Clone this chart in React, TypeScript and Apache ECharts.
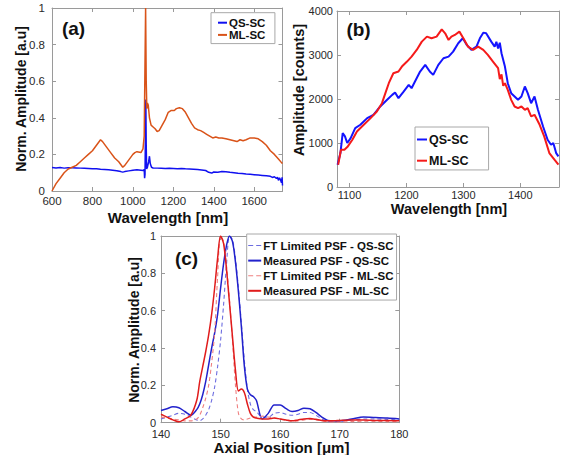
import React, { useEffect, useRef } from "react";
import * as echarts from "echarts";

// ---------- Panel (a) ----------
const aQsX = [600,620,640,660,680,700,720,740,760,780,800,820,840,860,880,900,920,940,950,960,980,1000,1020,1040,1052,1056,1058,1060,1062,1064,1066,1068,1072,1078,1082,1086,1092,1100,1120,1140,1160,1180,1200,1220,1240,1260,1280,1300,1320,1340,1360,1375,1390,1400,1420,1440,1460,1480,1500,1520,1540,1560,1580,1600,1620,1640,1660,1680,1690,1700,1710,1715,1720,1725,1730,1735,1738,1740];
const aQsY = [0.128,0.126,0.128,0.125,0.127,0.127,0.126,0.125,0.124,0.123,0.122,0.121,0.119,0.118,0.116,0.114,0.111,0.106,0.103,0.106,0.110,0.114,0.116,0.114,0.112,0.118,0.07,0.09,0.30,0.50,0.25,0.12,0.13,0.16,0.19,0.15,0.13,0.126,0.125,0.124,0.123,0.124,0.123,0.122,0.123,0.121,0.12,0.119,0.117,0.115,0.112,0.102,0.098,0.104,0.103,0.107,0.105,0.102,0.100,0.097,0.096,0.093,0.091,0.089,0.087,0.085,0.083,0.080,0.074,0.078,0.068,0.075,0.058,0.072,0.062,0.045,0.075,0.03];
const aMlX = [600,620,640,660,680,700,720,740,760,780,800,820,840,850,870,890,910,930,950,960,980,1000,1010,1020,1040,1050,1056,1060,1063,1066,1069,1072,1076,1082,1090,1100,1110,1120,1130,1145,1160,1175,1190,1205,1215,1230,1245,1260,1275,1290,1305,1320,1335,1350,1365,1380,1395,1410,1425,1440,1460,1480,1500,1515,1530,1545,1560,1580,1600,1620,1640,1660,1680,1700,1720,1735,1740];
const aMlY = [0.0,0.04,0.07,0.10,0.12,0.13,0.14,0.16,0.18,0.20,0.22,0.25,0.28,0.27,0.24,0.21,0.18,0.16,0.13,0.14,0.17,0.20,0.21,0.215,0.21,0.23,0.30,0.70,1.0,0.60,0.45,0.48,0.47,0.40,0.36,0.35,0.34,0.325,0.33,0.36,0.39,0.43,0.44,0.44,0.45,0.455,0.45,0.43,0.40,0.37,0.345,0.335,0.33,0.32,0.31,0.30,0.29,0.295,0.29,0.29,0.285,0.28,0.275,0.27,0.28,0.275,0.28,0.29,0.29,0.285,0.27,0.25,0.22,0.20,0.175,0.155,0.15];
const aXTicks = [600, 800, 1000, 1200, 1400, 1600];

// ---------- Panel (b) ----------
const bQsX = [1079,1084,1088,1092,1096,1102,1110,1119,1131,1142,1154,1166,1175,1180,1186,1195,1204,1209,1215,1224,1233,1241,1247,1256,1265,1274,1282,1291,1299,1306,1314,1323,1329,1335,1340,1349,1355,1358,1361,1364,1367,1373,1378,1384,1390,1396,1402,1408,1413,1419,1425,1431,1440,1448,1454,1458,1463,1467];
const bQsY = [507,771,1225,1150,1000,1110,1338,1414,1565,1640,1830,1981,2094,2147,2020,2170,2321,2246,2397,2624,2775,2624,2548,2775,2926,2964,3077,3266,3380,3229,3115,3191,3380,3508,3493,3304,3191,3300,3150,3280,3040,2737,2359,2132,2057,1981,2057,2284,2132,1905,2057,1754,1376,1074,960,998,771,696];
const bMlX = [1080,1085,1091,1097,1105,1113,1125,1137,1148,1157,1163,1169,1177,1186,1192,1201,1209,1218,1227,1236,1244,1253,1262,1268,1274,1279,1285,1293,1300,1308,1317,1326,1335,1343,1352,1361,1364,1367,1370,1373,1378,1384,1390,1396,1402,1408,1413,1419,1425,1434,1442,1451,1460,1467];
const bMlY = [507,847,847,922,1074,1263,1414,1565,1716,1905,2132,2359,2586,2624,2737,2851,2964,3115,3304,3418,3380,3418,3584,3493,3342,3418,3456,3531,3380,3191,3115,3191,3115,3002,2851,2700,2450,2560,2300,2359,2208,1981,1830,1792,1830,1754,1792,1603,1641,1414,1150,771,620,507];
const bXTicks = [1100, 1200, 1300, 1400];

// ---------- Panel (c) ----------
const cX = [140,141,142,143,144,145,146,146.5,147,147.5,148,148.5,149,149.5,150,150.5,151,151.5,152,152.5,153,153.5,154,154.5,155,155.5,156,157,158,159,160,161,162,163,164,165,166,167,168,169,170,172,174,176,178,180];
const cFtQs = [0.02,0.03,0.04,0.05,0.045,0.03,0.015,0.01,0.02,0.04,0.07,0.12,0.19,0.30,0.44,0.63,0.85,1.0,0.98,0.88,0.72,0.53,0.33,0.18,0.10,0.07,0.06,0.03,0.03,0.05,0.055,0.045,0.04,0.045,0.055,0.055,0.04,0.02,0.005,0.005,0.008,0.015,0.02,0.02,0.018,0.015];
const cMeasQs = [0.065,0.075,0.085,0.08,0.06,0.04,0.07,0.1,0.15,0.22,0.31,0.40,0.48,0.58,0.72,0.85,0.95,1.0,0.97,0.86,0.70,0.51,0.30,0.18,0.15,0.14,0.12,0.02,0.05,0.095,0.095,0.075,0.06,0.065,0.078,0.075,0.055,0.03,0.012,0.01,0.01,0.02,0.03,0.028,0.025,0.02];
const cFtMl = [0.03,0.025,0.02,0.015,0.01,0.01,0.02,0.04,0.08,0.13,0.20,0.32,0.48,0.78,1.0,0.97,0.84,0.66,0.44,0.20,0.05,0.02,0.015,0.02,0.025,0.03,0.03,0.035,0.03,0.025,0.02,0.012,0.008,0.01,0.015,0.018,0.015,0.01,0.005,0.004,0.004,0.006,0.008,0.008,0.006,0.005];
const cMeasMl = [0.045,0.03,0.015,0.005,0.02,0.04,0.12,0.22,0.30,0.38,0.47,0.58,0.72,0.88,1.0,0.96,0.82,0.64,0.46,0.28,0.17,0.18,0.16,0.10,0.05,0.03,0.025,0.02,0.02,0.025,0.02,0.015,0.01,0.015,0.02,0.022,0.018,0.012,0.01,0.01,0.012,0.015,0.015,0.012,0.012,0.01];

const FONT = "'Liberation Sans', Arial, Helvetica, sans-serif";
const AXIS_COLOR = "#9a9a9a";
const LABEL_COLOR = "#2a2a2a";

const C_A_QS = "#1010f0";
const C_A_ML = "#d95319";
const C_B_QS = "#1414ff";
const C_B_ML = "#f51a1a";
const C_FT_QS = "#6d6de0";
const C_M_QS = "#2222cc";
const C_FT_ML = "#ef8080";
const C_M_ML = "#e01c1c";

const SOLID_ICON = "rect";
const DASH_ICON = "path://M0,0h5v1h-5zM8,0h5v1h-5z";

const zip = (xs: number[], ys: number[]) => xs.map((x, i) => [x, ys[i]]);

function valueAxis(opts: any, showLabel: boolean, position: string, labelMargin: number, fontSize: number) {
  const { customValues, ...rest } = opts;
  const tick: any = { show: true, inside: true, length: 4, lineStyle: { color: AXIS_COLOR } };
  const label: any = {
    show: showLabel,
    color: LABEL_COLOR,
    fontSize,
    fontFamily: FONT,
    margin: labelMargin,
    formatter: (v: number) => String(Math.round(v * 1000) / 1000),
  };
  if (customValues) {
    tick.customValues = customValues;
    label.customValues = customValues;
  }
  return {
    type: "value",
    position,
    splitLine: { show: false },
    axisLine: { show: true, onZero: false, lineStyle: { color: AXIS_COLOR, width: 1 } },
    axisTick: tick,
    axisLabel: label,
    ...rest,
  };
}

function legendBox(left: number, top: number, items: any[], padding: number[], itemWidth: number, itemGap: number, fontSize: number) {
  return {
    orient: "vertical",
    left,
    top,
    data: items,
    padding,
    itemWidth,
    itemHeight: 2,
    itemGap,
    selectedMode: false,
    backgroundColor: "#ffffff",
    borderColor: "#a8a8a8",
    borderWidth: 1,
    borderRadius: 0,
    formatter: (n: string) => n.split("#")[0],
    textStyle: { fontSize, fontWeight: "bold", fontFamily: FONT, color: "#111", padding: [0, 0, 0, -3] },
  };
}

function titleText(text: string, x: number, y: number, size: number, rotate = 0) {
  return {
    type: "text",
    x,
    y,
    rotation: rotate,
    style: {
      text,
      fontSize: size,
      fontWeight: "bold",
      fontFamily: FONT,
      fill: "#111",
      align: "center",
      verticalAlign: "middle",
    },
  };
}

export default function App() {
  const ref = useRef<HTMLDivElement>(null);
  useEffect(() => {
    document.body.style.margin = "0";
    if (!ref.current) return;
    const chart = echarts.init(ref.current, undefined, { renderer: "svg" });
    const option: any = {
      animation: false,
      backgroundColor: "#ffffff",
      grid: [
        { left: 52, top: 8, width: 230.5, height: 183 },
        { left: 337, top: 11, width: 222, height: 176 },
        { left: 161, top: 236, width: 238.3, height: 186.7 },
      ],
      xAxis: [
        valueAxis({ gridIndex: 0, min: 600, max: 1740, customValues: aXTicks }, true, "bottom", 4, 11.5),
        valueAxis({ gridIndex: 0, min: 600, max: 1740, customValues: aXTicks }, false, "top", 4, 11.5),
        valueAxis({ gridIndex: 1, min: 1078, max: 1468, customValues: bXTicks }, true, "bottom", 2, 11),
        valueAxis({ gridIndex: 1, min: 1078, max: 1468, customValues: bXTicks }, false, "top", 2, 11),
        valueAxis({ gridIndex: 2, min: 140, max: 180, interval: 10 }, true, "bottom", 5.5, 11),
        valueAxis({ gridIndex: 2, min: 140, max: 180, interval: 10 }, false, "top", 5.5, 11),
      ],
      yAxis: [
        valueAxis({ gridIndex: 0, min: 0, max: 1, interval: 0.2 }, true, "left", 7, 11.5),
        valueAxis({ gridIndex: 0, min: 0, max: 1, interval: 0.2 }, false, "right", 7, 11.5),
        valueAxis({ gridIndex: 1, min: 0, max: 4000, interval: 1000 }, true, "left", 4, 11),
        valueAxis({ gridIndex: 1, min: 0, max: 4000, interval: 1000 }, false, "right", 4, 11),
        valueAxis({ gridIndex: 2, min: 0, max: 1, interval: 0.2 }, true, "left", 5, 11),
        valueAxis({ gridIndex: 2, min: 0, max: 1, interval: 0.2 }, false, "right", 5, 11),
      ],
      legend: [
        legendBox(
          211,
          12.7,
          [
            { name: "QS-SC#a", icon: SOLID_ICON, itemStyle: { color: C_A_QS } },
            { name: "ML-SC#a", icon: SOLID_ICON, itemStyle: { color: C_A_ML } },
          ],
          [4, 9.5, 2.7, 7],
          9,
          0.2,
          11.5
        ),
        legendBox(
          415,
          127,
          [
            { name: "QS-SC#b", icon: SOLID_ICON, itemStyle: { color: C_B_QS } },
            { name: "ML-SC#b", icon: SOLID_ICON, itemStyle: { color: C_B_ML } },
          ],
          [6, 20, 2.75, 2],
          10,
          8.2,
          12.5
        ),
        legendBox(
          246.7,
          234,
          [
            { name: "FT Limited PSF - QS-SC#c", icon: DASH_ICON, itemStyle: { color: C_FT_QS } },
            { name: "Measured PSF - QS-SC#c", icon: SOLID_ICON, itemStyle: { color: C_M_QS } },
            { name: "FT Limited PSF - ML-SC#c", icon: DASH_ICON, itemStyle: { color: C_FT_ML } },
            { name: "Measured PSF - ML-SC#c", icon: SOLID_ICON, itemStyle: { color: C_M_ML } },
          ],
          [5.5, 3, 3.25, 1.5],
          13,
          3.1,
          11.5
        ),
      ],
      series: [
        { name: "QS-SC#a", type: "line", xAxisIndex: 0, yAxisIndex: 0, symbol: "none", data: zip(aQsX, aQsY), lineStyle: { color: C_A_QS, width: 1.5 }, itemStyle: { color: C_A_QS } },
        { name: "ML-SC#a", type: "line", xAxisIndex: 0, yAxisIndex: 0, symbol: "none", data: zip(aMlX, aMlY), lineStyle: { color: C_A_ML, width: 1.5 }, itemStyle: { color: C_A_ML } },
        { name: "QS-SC#b", type: "line", xAxisIndex: 2, yAxisIndex: 2, symbol: "none", data: zip(bQsX, bQsY), lineStyle: { color: C_B_QS, width: 2 }, itemStyle: { color: C_B_QS } },
        { name: "ML-SC#b", type: "line", xAxisIndex: 2, yAxisIndex: 2, symbol: "none", data: zip(bMlX, bMlY), lineStyle: { color: C_B_ML, width: 2 }, itemStyle: { color: C_B_ML } },
        { name: "FT Limited PSF - QS-SC#c", type: "line", xAxisIndex: 4, yAxisIndex: 4, symbol: "none", smooth: 0.3, data: zip(cX, cFtQs), lineStyle: { color: C_FT_QS, width: 1.1, type: [4, 3] }, itemStyle: { color: C_FT_QS } },
        { name: "Measured PSF - QS-SC#c", type: "line", xAxisIndex: 4, yAxisIndex: 4, symbol: "none", smooth: 0.3, data: zip(cX, cMeasQs), lineStyle: { color: C_M_QS, width: 1.5 }, itemStyle: { color: C_M_QS } },
        { name: "FT Limited PSF - ML-SC#c", type: "line", xAxisIndex: 4, yAxisIndex: 4, symbol: "none", smooth: 0.3, data: zip(cX, cFtMl), lineStyle: { color: C_FT_ML, width: 1.1, type: [4, 3] }, itemStyle: { color: C_FT_ML } },
        { name: "Measured PSF - ML-SC#c", type: "line", xAxisIndex: 4, yAxisIndex: 4, symbol: "none", smooth: 0.3, data: zip(cX, cMeasMl), lineStyle: { color: C_M_ML, width: 1.5 }, itemStyle: { color: C_M_ML } },
      ],
      graphic: [
        titleText("(a)", 73.5, 28, 19),
        titleText("(b)", 358.5, 29, 19),
        titleText("(c)", 186.5, 258, 19),
        titleText("Wavelength [nm]", 168, 217.5, 15),
        titleText("Wavelength [nm]", 449, 208.5, 14.5),
        titleText("Axial Position [μm]", 281.5, 447, 15),
        titleText("Norm. Amplitude [a.u]", 21, 99, 14, Math.PI / 2),
        titleText("Amplitude [counts]", 299, 90, 14.5, Math.PI / 2),
        titleText("Norm. Amplitude [a.u]", 134, 330, 14, Math.PI / 2),
      ],
    };
    chart.setOption(option);
    return () => chart.dispose();
  }, []);
  return <div ref={ref} style={{ width: 567, height: 455 }} />;
}
